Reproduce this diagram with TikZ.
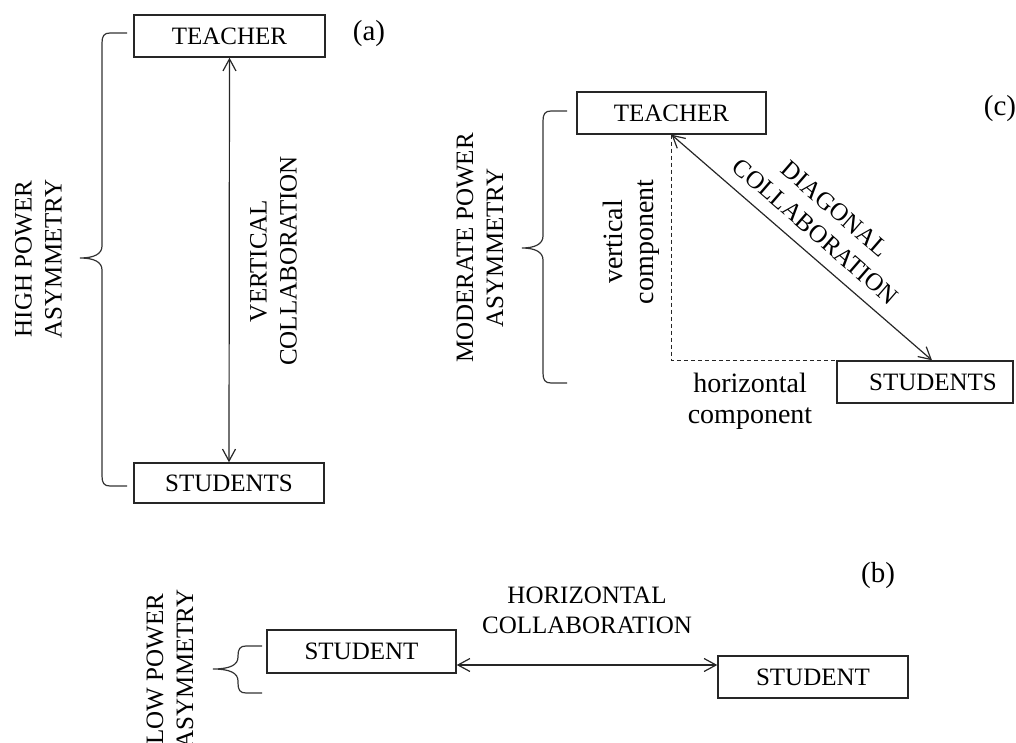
\documentclass[tikz,border=0pt]{standalone}
\usepackage{fontspec}
\setmainfont{Liberation Serif}
\usetikzlibrary{arrows.meta,calc}

% curly brace opening to the right: arm x, spine x, tip x, top y, middle y, bottom y
\newcommand\curlybrace[6]{%
  \draw[bracepath] (#1,#4) -- (#2+8,#4) .. controls (#2+2,#4) and (#2,#4+3) .. (#2,#4+10)
    -- (#2,#5-12) .. controls (#2,#5-4) and (#2-8,#5) .. (#3,#5)
    .. controls (#2-8,#5) and (#2,#5+4) .. (#2,#5+12)
    -- (#2,#6-10) .. controls (#2,#6-3) and (#2+2,#6) .. (#2+8,#6) -- (#1,#6);}

\begin{document}
\begin{tikzpicture}[x=0.5pt,y=-0.5pt,
  box/.style={draw=black!85, line width=0.7pt, inner sep=0pt,
    font=\fontsize{12.5}{14}\selectfont},
  caps/.style={font=\fontsize{12.5}{15}\selectfont, align=center, inner sep=0pt},
  lower/.style={font=\fontsize{14}{15.5}\selectfont, align=center, inner sep=0pt},
  tag/.style={font=\fontsize{14.5}{16}\selectfont, inner sep=0pt},
  link/.style={draw=black!85, line width=0.6pt,
    {Straight Barb[length=6pt,width=6.5pt]}-{Straight Barb[length=6pt,width=6.5pt]}},
  bracepath/.style={draw=black!80, line width=0.6pt},
  guide/.style={draw=black!85, line width=0.6pt, dash pattern=on 2pt off 1.5pt},
]
\useasboundingbox (0,0) rectangle (1016,743);

% ---------- (a) vertical collaboration ----------
\node[box, minimum width=95.5pt, minimum height=21pt] (ta) at (229.5,36) {TEACHER};
\node[box, minimum width=95pt, minimum height=20pt] (sa) at (229,483) {STUDENTS};
\draw[link] (ta.south) -- (sa.north);
\node[caps, rotate=90] (va) at (273.5,261) {VERTICAL\\COLLABORATION};
\curlybrace{127}{102}{80}{33}{258}{486}
\node[caps, rotate=90] (ha) at (38.5,259) {HIGH POWER\\ASYMMETRY};
\node[tag] (la) at (369,34) {(a)};

% ---------- (c) diagonal collaboration ----------
\node[box, minimum width=94.5pt, minimum height=21pt] (tc) at (671.5,113) {TEACHER};
\node[box, minimum width=88pt, minimum height=21pt] (sc) at (925,382) {\hspace{8pt}STUDENTS};
\draw[guide] (tc.south) |- (sc.north);
\draw[link] (tc.south) -- ([xshift=3.5pt]sc.north)
  node[caps, midway, sloped, above=6pt] (dc) {DIAGONAL\\COLLABORATION};
\node[lower, rotate=90] (vc) at (631,242) {vertical\\component};
\node[lower] (hc) at (750,401) {horizontal\\component};
\curlybrace{567}{543}{522}{111}{248}{383}
\node[caps, rotate=90] (mc) at (480,248) {MODERATE POWER\\ASYMMETRY};
\node[tag] (lc) at (1000,109) {(c)};

% ---------- (b) horizontal collaboration ----------
\node[box, minimum width=94.5pt, minimum height=21.5pt] (s1) at (361.5,651.5) {STUDENT};
\node[box, minimum width=95pt, minimum height=21pt] (s2) at (813,677) {STUDENT};
\coordinate (hb) at (587,665);
\draw[link] (s1.east |- hb) -- (s2.west |- hb);
\node[caps] (hcb) at (587,610.5) {HORIZONTAL\\COLLABORATION};
\curlybrace{262}{238}{213}{646}{669}{693}
\node[caps, rotate=90] (lb) at (170,669) {LOW POWER\\ASYMMETRY};
\node[tag] (bb) at (878,576) {(b)};
\end{tikzpicture}
\end{document}
